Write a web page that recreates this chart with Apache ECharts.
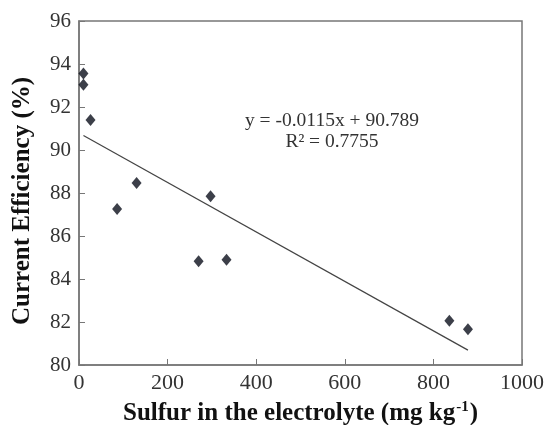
<!DOCTYPE html>
<html>
<head>
<meta charset="utf-8">
<script src="https://cdn.jsdelivr.net/npm/echarts@6/dist/echarts.min.js"></script>
<style>
  html, body { margin: 0; padding: 0; background: #fff; }
  #chart { width: 545px; height: 425px; }
</style>
</head>
<body>
<div id="chart"></div>
<script>
// measured points (sulfur mg/kg, current efficiency %)
const sulfur = [10, 10, 26, 86, 130, 297, 270, 333, 836, 878];
const efficiency = [93.56, 93.03, 91.39, 87.26, 88.47, 87.85, 84.83, 84.89, 82.06, 81.66];

// linear fit as printed on the chart
const fitSlope = -0.0115;
const fitIntercept = 90.789;
const fitRange = [10, 878];
const fitLabels = ['y = -0.0115x + 90.789', 'R² = 0.7755'];

const xTicks = [0, 1000, 200];   // min, max, interval
const yTicks = [80, 96, 2];

const serif = '"Liberation Serif", "Times New Roman", serif';

let points = sulfur.map((s, i) => [s, efficiency[i]]);
let fitLine = fitRange.map(x => [x, fitIntercept + fitSlope * x]);

let myChart = echarts.init(document.getElementById('chart'));
let option = {
  animation: false,
  backgroundColor: '#fff',
  grid: {
    left: 79, right: 23, top: 21, bottom: 60,
    outerBoundsMode: 'none',
    containLabel: false,
    show: true,
    borderColor: '#777',
    borderWidth: 1.5
  },
  xAxis: {
    type: 'value',
    min: xTicks[0], max: xTicks[1], interval: xTicks[2],
    splitLine: {show: false},
    axisLine: {lineStyle: {color: '#777', width: 1.5}},
    axisTick: {inside: true, length: 6, lineStyle: {color: '#777'}},
    axisLabel: {fontFamily: serif, fontSize: 22, color: '#333', margin: 7,
      formatter: v => String(v)},
    name: '{b|Sulfur in the electrolyte (mg kg}{s|-1}{b|)}',
    nameLocation: 'middle',
    nameGap: 35,
    nameTextStyle: {
      rich: {
        b: {fontFamily: serif, fontSize: 25, fontWeight: 'bold', color: '#111'},
        s: {fontFamily: serif, fontSize: 15, fontWeight: 'bold', color: '#111', padding: [0, 1, 12, 1]}
      }
    }
  },
  yAxis: {
    type: 'value',
    min: yTicks[0], max: yTicks[1], interval: yTicks[2],
    splitLine: {show: false},
    axisLine: {show: true, lineStyle: {color: '#777', width: 1.5}},
    axisTick: {show: true, inside: true, length: 6, lineStyle: {color: '#777'}},
    axisLabel: {fontFamily: serif, fontSize: 21, color: '#333', margin: 8},
    name: 'Current Efficiency (%)',
    nameLocation: 'middle',
    nameRotate: 90,
    nameGap: 44,
    nameTextStyle: {fontFamily: serif, fontSize: 25, fontWeight: 'bold', color: '#111',
      padding: [0, 16, 0, 0]}
  },
  graphic: [
    {
      type: 'text',
      x: 332, y: 110,
      style: {
        text: fitLabels.join('\n'),
        fontFamily: serif, fontSize: 19.5, lineHeight: 21,
        fill: '#333', align: 'center', verticalAlign: 'top'
      }
    }
  ],
  series: [
    {
      type: 'line',
      data: fitLine,
      showSymbol: false,
      lineStyle: {color: '#444', width: 1.2},
      z: 1
    },
    {
      type: 'scatter',
      data: points,
      symbol: 'diamond',
      symbolSize: [10, 12],
      itemStyle: {color: '#0b0f1c'},
      z: 2
    }
  ]
};
myChart.setOption(option);
</script>
</body>
</html>
